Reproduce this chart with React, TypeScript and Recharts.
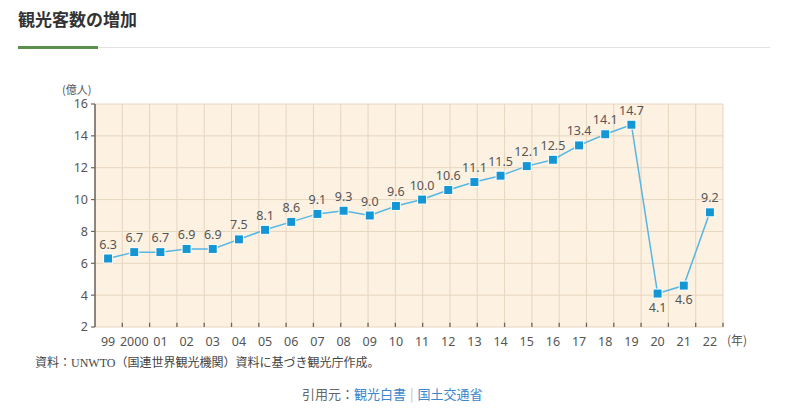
import React from 'react';
import {
  LineChart,
  Line,
  XAxis,
  YAxis,
  CartesianGrid,
  LabelList,
  ReferenceLine,
} from 'recharts';

// 世界の観光客数（億人）
const years = ['99', '2000', '01', '02', '03', '04', '05', '06', '07', '08', '09', '10', '11', '12', '13', '14', '15', '16', '17', '18', '19', '20', '21', '22'];
const visitors = [6.3, 6.7, 6.7, 6.9, 6.9, 7.5, 8.1, 8.6, 9.1, 9.3, 9.0, 9.6, 10.0, 10.6, 11.1, 11.5, 12.1, 12.5, 13.4, 14.1, 14.7, 4.1, 4.6, 9.2];
const yTicks = [2, 4, 6, 8, 10, 12, 14, 16];
const labelsBelow = ['20', '21'];

const data = years.map((year, i) => ({ year, value: visitors[i] }));
const edgeTicks = years.slice(1).map((_, i) => i + 1);

const FONT = '"Noto Sans", "Noto Sans CJK JP", sans-serif';
const CHART_W = 800;
const CHART_H = 300;
const MARGIN = { top: 44, right: 77, bottom: 8, left: 60 };
const Y_AXIS_W = 35;
const PLOT_W = CHART_W - MARGIN.left - MARGIN.right - Y_AXIS_W;
const STEP = PLOT_W / years.length;
const INNER_TICK = 0.27; // inner tick length on the x axis, in y units

const AXIS = '#6b6660';
const GRID = '#e6d6c0';
const TEXT = '#555';

const Square = (props: any) => {
  const { cx, cy } = props;
  if (cx == null || cy == null) return null;
  return <rect x={cx - 4.5} y={cy - 4.5} width={9} height={9} fill="#1596d4" stroke="#fff" strokeWidth={1} />;
};

const ValueLabel = (props: any) => {
  const { x, y, value, index } = props;
  const below = labelsBelow.includes(years[index]);
  return (
    <text
      x={x}
      y={below ? y + 18 : y - 10}
      textAnchor="middle"
      fill={TEXT}
      fontSize={12.5}
      fontFamily={FONT}
    >
      {Number(value).toFixed(1)}
    </text>
  );
};

const EmptyTick = () => null;

export default function App() {
  return (
    <div style={{ position: 'fixed', left: 0, top: 0, width: 800, height: 416, background: '#fff', fontFamily: FONT }}>
      <div style={{ position: 'absolute', left: 18, top: 6, fontSize: 17, fontWeight: 700, color: '#333', fontFamily: '"Noto Sans CJK JP", sans-serif' }}>
        観光客数の増加
      </div>
      <div style={{ position: 'absolute', left: 18, top: 47, width: 752, height: 1, background: '#e2e2e2' }} />
      <div style={{ position: 'absolute', left: 18, top: 46, width: 80, height: 3, background: '#5b8f4c' }} />

      <div style={{ position: 'absolute', left: 62, top: 81, fontSize: 11, color: TEXT, fontFamily: '"Noto Sans CJK JP", sans-serif' }}>
        (億人)
      </div>
      <div style={{ position: 'absolute', left: 727, top: 331, fontSize: 12, color: TEXT, fontFamily: '"Noto Sans CJK JP", sans-serif' }}>
        (年)
      </div>

      <div style={{ position: 'absolute', left: 0, top: 60 }}>
        <LineChart width={CHART_W} height={CHART_H} data={data} margin={MARGIN}>
          <CartesianGrid xAxisId="edges" fill="#fdf1e1" stroke={GRID} strokeWidth={1} />
          <XAxis
            xAxisId="edges"
            type="number"
            domain={[0, years.length]}
            ticks={edgeTicks}
            height={0}
            tick={<EmptyTick />}
            tickLine={false}
            axisLine={{ stroke: AXIS, strokeWidth: 1.5 }}
          />
          <XAxis
            dataKey="year"
            height={25}
            interval={0}
            padding={{ left: STEP / 2, right: STEP / 2 }}
            axisLine={false}
            tickLine={false}
            tickMargin={4}
            tick={{ fill: TEXT, fontSize: 12.5, fontFamily: FONT }}
          />
          <XAxis
            xAxisId="top"
            orientation="top"
            type="number"
            domain={[0, 1]}
            height={0}
            tick={<EmptyTick />}
            tickLine={false}
            axisLine={{ stroke: AXIS, strokeWidth: 1.2 }}
          />
          <YAxis
            domain={[2, 16]}
            ticks={yTicks}
            width={Y_AXIS_W}
            tickSize={4}
            tickMargin={3}
            axisLine={{ stroke: AXIS, strokeWidth: 1.5 }}
            tickLine={{ stroke: AXIS, strokeWidth: 1.2 }}
            tick={{ fill: TEXT, fontSize: 12.5, fontFamily: FONT }}
          />
          <YAxis
            yAxisId="right"
            orientation="right"
            type="number"
            domain={[0, 1]}
            width={0}
            tick={<EmptyTick />}
            tickLine={false}
            axisLine={{ stroke: AXIS, strokeWidth: 1.2 }}
          />
          {edgeTicks.map((t) => (
            <ReferenceLine
              key={t}
              xAxisId="edges"
              segment={[{ x: t, y: 2 }, { x: t, y: 2 + INNER_TICK }]}
              stroke={AXIS}
              strokeWidth={1.3}
            />
          ))}
          <Line
            type="linear"
            dataKey="value"
            stroke="#56b6e4"
            strokeWidth={1.5}
            dot={<Square />}
            activeDot={false}
            isAnimationActive={false}
          >
            <LabelList dataKey="value" content={<ValueLabel />} />
          </Line>
        </LineChart>
      </div>

      <div style={{ position: 'absolute', left: 35, top: 353, fontSize: 12, color: '#444', fontFamily: '"Liberation Serif", "Noto Sans CJK JP", serif' }}>
        資料：UNWTO（国連世界観光機関）資料に基づき観光庁作成。
      </div>
      <div style={{ position: 'absolute', left: 302, top: 384, fontSize: 13, color: '#666', fontFamily: '"Noto Sans CJK JP", sans-serif' }}>
        引用元：<span style={{ color: '#3c86cc' }}>観光白書</span>
        <span style={{ color: '#bbb', margin: '0 4px' }}>|</span>
        <span style={{ color: '#3c86cc' }}>国土交通省</span>
      </div>
    </div>
  );
}
